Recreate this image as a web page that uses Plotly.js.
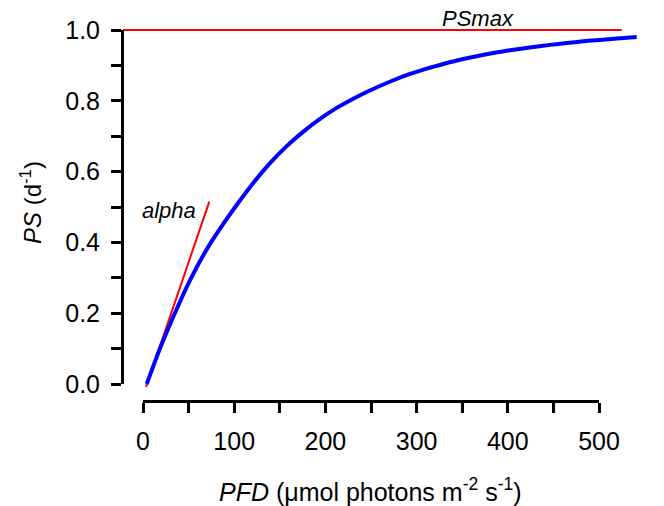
<!DOCTYPE html>
<html>
<head>
<meta charset="utf-8">
<script src="https://cdn.plot.ly/plotly-3.0.1.min.js"></script>
<style>html,body{margin:0;padding:0;background:#fff;}#chart{width:664px;height:506px;}</style>
</head>
<body>
<div id="chart"></div>
<script>
// Photosynthesis–irradiance curve
var pfd = [4.1, 18.6, 33.2, 51.5, 69.8, 88.0, 104.5, 120.9, 139.3, 157.6, 175.8, 194.1, 212.4, 230.6, 247.0, 274.5, 292.8, 311.1, 329.3, 347.6, 365.9, 384.1, 400.5, 428.0, 446.3, 464.6, 482.8, 501.1, 519.4, 541.3];
var ps  = [0.000, 0.100, 0.190, 0.293, 0.380, 0.452, 0.512, 0.568, 0.624, 0.672, 0.713, 0.749, 0.780, 0.806, 0.827, 0.858, 0.876, 0.891, 0.904, 0.916, 0.926, 0.935, 0.942, 0.952, 0.958, 0.963, 0.968, 0.972, 0.976, 0.980];
// initial slope line (alpha)
var alphaX = [3.3, 72.7];
var alphaY = [-0.008, 0.515];
// PSmax line
var psmaxX = [-22, 525];
var psmaxY = [1.0, 1.0];
// ticks
var xTickVals = [0, 100, 200, 300, 400, 500];
var xTickText = ['0', '100', '200', '300', '400', '500'];
var xMinorVals = [50, 150, 250, 350, 450];
var yTickVals = [0, 0.2, 0.4, 0.6, 0.8, 1.0];
var yTickText = ['0.0', '0.2', '0.4', '0.6', '0.8', '1.0'];
var yMinorVals = [0.1, 0.3, 0.5, 0.7, 0.9];

var FONT = 'Arial, "Liberation Sans", sans-serif';
var W = 664, H = 506;
// pixel frame of the visible axes
var X0 = 143, X1 = 599, Y0 = 384, Y1 = 30, YAXIS_PX = 122, XAXIS_PX = 401;
var sx = (X1 - X0) / 500, sy = (Y0 - Y1) / 1;

var traces = [
  {x: psmaxX, y: psmaxY, mode: 'lines', line: {color: '#ff0000', width: 2}, hoverinfo: 'skip'},
  {x: alphaX, y: alphaY, mode: 'lines', line: {color: '#ff0000', width: 2}, hoverinfo: 'skip'},
  {x: pfd, y: ps, mode: 'lines', line: {color: '#0000ff', width: 4, shape: 'spline', smoothing: 0.6}, hoverinfo: 'skip'},
  {x: [], y: [], xaxis: 'x2', yaxis: 'y2', mode: 'lines', hoverinfo: 'skip'}
];

var minorStyle = {ticks: 'outside', ticklen: 10, tickwidth: 3, tickcolor: '#000000', showgrid: false, tickmode: 'array'};

var layout = {
  width: W, height: H,
  margin: {l: 0, r: 0, t: 0, b: 0, pad: 0},
  paper_bgcolor: '#ffffff', plot_bgcolor: 'rgba(0,0,0,0)',
  showlegend: false,
  font: {family: FONT, color: '#000000', size: 24},
  xaxis: {domain: [0, 1], range: [-X0 / sx, (W - X0) / sx], visible: false, fixedrange: true},
  yaxis: {domain: [0, 1], range: [-(H - Y0) / sy, 1 + Y1 / sy], visible: false, fixedrange: true},
  xaxis2: {
    domain: [X0 / W, X1 / W], range: [0, 500], anchor: 'free', position: 1 - XAXIS_PX / H,
    showline: true, linewidth: 3, linecolor: '#000000',
    ticks: 'outside', ticklen: 10, tickwidth: 3, tickcolor: '#000000',
    tickmode: 'array', tickvals: xTickVals, ticktext: xTickText, ticklabelstandoff: 7,
    minor: Object.assign({tickvals: xMinorVals}, minorStyle),
    showgrid: false, zeroline: false, tickfont: {size: 25, family: FONT}
  },
  yaxis2: {
    domain: [1 - Y0 / H, 1 - Y1 / H], range: [0, 1], anchor: 'free', position: YAXIS_PX / W,
    showline: true, linewidth: 3, linecolor: '#000000',
    ticks: 'outside', ticklen: 10, tickwidth: 3, tickcolor: '#000000',
    tickmode: 'array', tickvals: yTickVals, ticktext: yTickText, ticklabelstandoff: 6,
    minor: Object.assign({tickvals: yMinorVals}, minorStyle),
    showgrid: false, zeroline: false, tickfont: {size: 25, family: FONT}
  },
  annotations: [
    {text: '<i>PSmax</i>', x: 478 / W, y: 1 - 18 / H, xref: 'paper', yref: 'paper', xanchor: 'center', yanchor: 'middle', showarrow: false, font: {size: 22, family: FONT}},
    {text: '<i>alpha</i>', x: 169 / W, y: 1 - 210 / H, xref: 'paper', yref: 'paper', xanchor: 'center', yanchor: 'middle', showarrow: false, font: {size: 22, family: FONT}},
    {text: '<i>PFD</i> (μmol photons m<sup>-2</sup> s<sup>-1</sup>)', x: 371 / W, y: 1 - 490 / H, xref: 'paper', yref: 'paper', xanchor: 'center', yanchor: 'middle', showarrow: false, font: {size: 25, family: FONT}},
    {text: '<i>PS</i> (d<sup>-1</sup>)', x: 31 / W, y: 1 - 203 / H, xref: 'paper', yref: 'paper', xanchor: 'center', yanchor: 'middle', showarrow: false, textangle: -90, font: {size: 24, family: FONT}}
  ]
};

Plotly.newPlot('chart', traces, layout, {staticPlot: true, displayModeBar: false});
</script>
</body>
</html>
